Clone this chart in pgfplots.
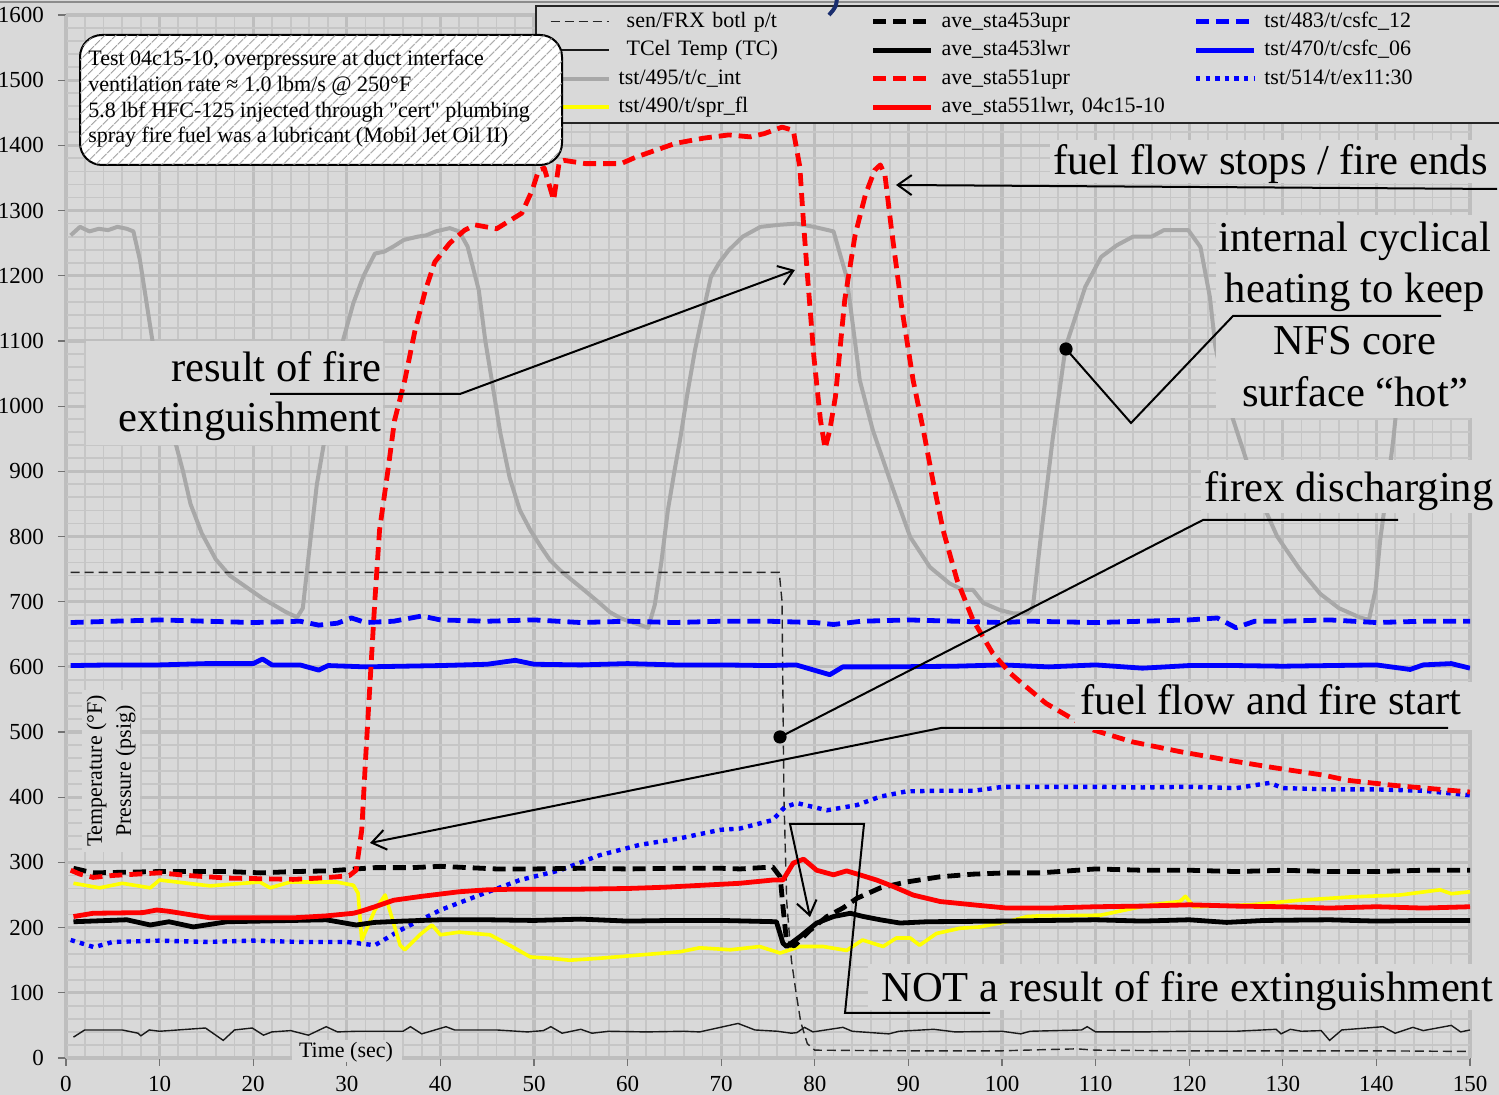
\documentclass[border=0pt]{standalone}
\usepackage{fontspec}
\setmainfont{Liberation Serif}[Ligatures=TeXOff]
\usepackage{pgfplots}
\pgfplotsset{compat=1.18}
\usetikzlibrary{patterns.meta,arrows.meta}
\definecolor{bg}{RGB}{217,217,217}
\definecolor{gmaj}{RGB}{190,190,190}
\definecolor{gmin}{RGB}{198,198,198}
\definecolor{cgrey}{RGB}{168,168,168}
\definecolor{cyel}{RGB}{255,255,0}
\definecolor{navyish}{RGB}{25,45,110}
\tikzset{
 frx/.style={black!85, line width=0.7pt, dash pattern=on 4.5pt off 2.5pt},
 tcel/.style={black!90, line width=0.7pt},
 gry/.style={cgrey, line width=2pt, line join=round},
 yel/.style={cyel, line width=1.8pt, line join=round},
 kdash/.style={black, line width=2.4pt, dash pattern=on 6.5pt off 3.5pt, line join=round},
 ksol/.style={black, line width=2.4pt, line join=round},
 rdash/.style={red, line width=2.4pt, dash pattern=on 6.5pt off 3.5pt, line join=round},
 rsol/.style={red, line width=2.4pt, line join=round},
 bdash/.style={blue, line width=2.4pt, dash pattern=on 6.5pt off 3.5pt, line join=round},
 bsol/.style={blue, line width=2.4pt, line join=round},
 bdot/.style={blue, line width=2.2pt, dash pattern=on 2.2pt off 2.6pt},
 ann/.style={black, line width=1pt},
 annarr/.style={black, line width=1pt, -{Straight Barb[length=7pt,width=10pt,line width=1pt]}},
}
\newcommand\bigf{\fontsize{21.3}{25}\selectfont}
\begin{document}
\begin{tikzpicture}
\fill[bg] (-33pt,-18.5pt) rectangle (716.5pt,529pt);
\begin{axis}[
 at={(0,0)}, anchor=south west, scale only axis, width=702pt, height=521.5pt,
 xmin=0, xmax=150, ymin=0, ymax=1600,
 xtick distance=10, ytick distance=100, minor x tick num=4, minor y tick num=4,
 grid=both,
 major grid style={draw=gmaj, line width=1.6pt},
 minor grid style={draw=gmin, line width=0.9pt},
 axis lines*=left,
 axis line style={draw=gmaj, line width=1pt},
 tick align=outside, major tick length=4pt, minor tick length=0pt,
 tick style={draw=black!55, line width=0.6pt},
 tick label style={font=\fontsize{11.5}{13}\selectfont},
 yticklabel style={xshift=-3.5pt},
 xticklabel style={yshift=-1.5pt},
 /pgf/number format/assume math mode=true,
 /pgf/number format/1000 sep={},
 axis background/.style={fill=bg},
 legend columns=3,
 legend cell align=left,
 legend image code/.code={\draw[#1] (0pt,0pt) -- (29pt,0pt);},
 legend style={at={(0.334,1.0096)}, anchor=north west, draw=black!85, line width=0.8pt,
   fill=bg, inner xsep=6.5pt, inner ysep=1.2pt, row sep=0.75pt,
   font=\fontsize{11}{13}\selectfont,
   nodes={text width=118pt, align=left, inner sep=1.5pt, text height=8pt, text depth=2.5pt, anchor=west},
   /tikz/every odd column/.append style={column sep=2.5pt},
   /tikz/every even column/.append style={column sep=6.5pt}},
]
% grey c_int
\addplot[gry, forget plot] coordinates {
(0.5,1262) (1.5,1275) (2.5,1268) (3.5,1272) (4.5,1270) (5.5,1275) (6.5,1272) (7.2,1268) (7.9,1224) (9,1122) (10,1030) (11,975) (11.8,938) (12.5,900) (13.3,850) (14.5,805) (16,765) (17.5,740) (19,725) (20,715) (21,705) (22.2,695) (23.5,684) (24.7,676) (25.3,690) (26,780) (26.8,880) (27.5,938) (28.3,1040) (29.6,1101) (30.7,1158) (31.8,1200) (33,1234) (34,1237) (35,1245) (36.1,1255) (37.6,1260) (38.5,1262) (39.5,1268) (41,1273) (42,1268) (42.9,1245) (44.1,1178) (44.8,1100) (45.6,1030) (46.4,959) (47.4,890) (48.5,840) (49.6,810) (50.7,785) (51.7,764) (52.8,748) (53.8,736) (55,722) (56,710) (57,698) (58.1,684) (59.2,675) (60.3,669) (61.2,665) (62.2,660) (62.9,695) (63.6,760) (64.3,840) (65,900) (65.6,948) (66.4,1020) (67.2,1086) (68,1140) (68.9,1198) (69.8,1220) (70.8,1239) (72.3,1260) (74.2,1275) (76.1,1278) (78,1280) (79.9,1275) (82,1268) (83.4,1198) (84.5,1076) (84.8,1040) (86.2,963) (88.4,871) (90.2,799) (92.3,753) (94.4,728) (95.8,718) (96.9,718) (98,698) (99.8,687) (101.2,682) (102.7,682) (103.3,692) (104.1,794) (105.4,948) (106.8,1091) (108.9,1183) (110.6,1229) (112.3,1247) (114,1260) (116,1260) (117.3,1270) (119.9,1270) (121.2,1244) (122.2,1168) (122.8,1091) (124,1010) (125.4,948) (126.5,900) (128,845) (129.4,800) (130.4,779) (131.8,750) (134,712) (136,690) (138.2,676) (139.2,672) (139.9,718) (140.4,794) (141.2,880) (141.8,948) (142.6,1060) (143.5,1180) (144.5,1240) (146,1260) (148,1265) (150,1268)};
% sen/FRX
\addplot[frx, forget plot] coordinates {
(0.5,745) (76.2,745) (76.5,700) (76.7,400) (77,240) (77.5,150) (78,100) (78.5,55) (79.2,22) (80,12) (90,11) (100,11) (105,13) (108,14) (110,12) (120,11) (130,11) (140,11) (150,10)};
% TCel
\addplot[tcel, forget plot] coordinates {
(0.8,32) (2,43) (6,43) (7.7,38) (8,34) (8.9,43) (10,41) (14.9,46) (16.8,27) (18,43) (19.9,46) (21.1,35) (22,40) (24,42) (25.9,35) (27.8,48) (29,40) (31,41) (36,41) (36.8,48) (38,37) (40.6,48) (41.5,43) (46,43) (49.3,40) (51,42) (51.8,48) (53,38) (55,44) (56.2,38) (58,41) (62,40) (66,41) (67.7,40) (71.8,53) (73.6,43) (76,41) (77.5,38) (78.1,39) (78.9,47) (79.8,40) (83,47) (84,41) (87.9,37) (89,41) (92.7,44) (95,40) (100,41) (102,37) (103,41) (108.5,43) (109.1,48) (110,40) (115,40) (120,41) (125,41) (129.3,44) (129.8,37) (130.8,44) (132,41) (134.1,42) (135,27) (136.3,43) (140.7,48) (142,38) (143.9,47) (145,42) (148,50) (149,40) (150,43)};
% blue dotted ex11:30
\addplot[bdot, forget plot] coordinates {
(0.5,181) (3,170) (5,178) (10,180) (15,178) (20,180) (25,178) (30,178) (33,173) (35.7,196) (40,227) (44.2,250) (48.5,273) (52.8,288) (57,311) (61.3,327) (65.6,337) (69.9,350) (72,352) (75.5,365) (76.8,385) (78.1,391) (81.3,380) (84.5,388) (87,401) (89.8,409) (93.4,410) (97,410) (100.1,416) (106,416) (110,416) (115,415) (120,416) (125,414) (128.6,422) (130,414) (135,412) (140,412) (145,410) (150,403)};
% yellow spr_fl
\addplot[yel, forget plot] coordinates {
(0.8,268) (3.6,261) (6,268) (9,261) (10,273) (15.4,264) (20.7,270) (21.8,261) (24,270) (28.9,270) (30.7,265) (31.2,253) (31.6,181) (33,227) (34.1,250) (35.7,173) (36.2,166) (37.8,189) (39.1,204) (40,189) (42,193) (45.3,189) (47.4,173) (49.6,155) (51.7,153) (53.8,150) (57,153) (61.3,158) (65.6,163) (67.7,169) (71,166) (74.1,171) (76.3,161) (78.4,171) (80.9,171) (83.4,165) (85.1,181) (87.3,171) (88.7,184) (90.2,184) (91.2,173) (93,191) (95.5,199) (97.6,201) (100.5,209) (102.7,217) (104,218) (110.5,219) (115.8,235) (119,240) (119.6,248) (120.5,232) (126.5,235) (131.8,242) (137.2,247) (142.5,250) (146.8,258) (148,252) (150,255)};
% blue solid csfc_06
\addplot[bsol, forget plot] coordinates {
(0.5,602) (5,603) (10,603) (15,605) (20,605) (21,612) (22,603) (25,603) (27,595) (28,602) (32,600) (40,602) (45,604) (48,610) (50,604) (55,603) (60,605) (65,603) (70,603) (75,602) (78,603) (81.6,588) (83,600) (88,600) (95,601) (100,603) (105,600) (110,603) (115,598) (120,602) (125,602) (130,601) (135,602) (140,603) (143.6,596) (145,603) (148,605) (150,598)};
% blue dashed csfc_12
\addplot[bdash, forget plot] coordinates {
(0.5,668) (5,670) (10,672) (15,670) (20,668) (25,670) (27,664) (29,667) (30.5,675) (32,668) (35,670) (38,678) (40,672) (45,670) (50,672) (55,668) (60,670) (65,668) (70,670) (75,670) (80,668) (82,665) (85,670) (90,672) (95,670) (100,668) (103,670) (110,668) (115,670) (120,672) (123,675) (125,660) (127,670) (130,670) (135,672) (140,668) (145,670) (150,670)};
% black solid 453lwr
\addplot[ksol, forget plot] coordinates {
(0.8,209) (6.5,212) (9,204) (11,209) (13.6,201) (17.2,209) (24.3,211) (27.8,212) (31,204) (33,208) (36,210) (40,212) (45,212) (50,211) (55,213) (60,210) (65,211) (70,211) (75.9,209) (76.6,176) (77,171) (78.4,186) (80.2,207) (82,217) (83.8,222) (85.2,217) (87,212) (89.1,207) (92,209) (100,210) (105,211) (110,212) (115,210) (120,212) (124,208) (128,211) (135,212) (140,210) (145,211) (150,211)};
% black dashed 453upr
\addplot[kdash, forget plot] coordinates {
(0.8,291) (2.9,284) (10,286) (17.2,286) (20.8,284) (24.3,286) (28,287) (31,290) (33,292) (37,292) (40,294) (43,292) (46,290) (50,290) (55,291) (60,290) (65,291) (70,291) (72,290) (75.5,293) (76.3,278) (76.6,232) (77,176) (77.8,172) (79.5,196) (81.3,217) (83,230) (84.5,245) (87,261) (89.8,270) (93.4,278) (96.9,282) (100.5,284) (104.1,284) (110,290) (115,288) (120,288) (125,286) (130,288) (135,286) (140,286) (145,288) (150,288)};
% red solid 551lwr
\addplot[rsol, forget plot] coordinates {
(0.8,217) (2.9,222) (8.2,223) (9.7,227) (11,225) (13.6,219) (15.4,215) (20,215) (24.3,215) (27.8,218) (30.7,222) (31.5,225) (33,232) (35,242) (38,248) (42,255) (45,258) (48,259) (55,259) (60,260) (64,262) (68,265) (72,268) (75.5,273) (76.6,273) (77.7,299) (78.8,305) (80.2,288) (82,281) (83.4,287) (84.8,281) (86.6,273) (88.4,263) (90.5,250) (93.4,240) (96.9,235) (100.5,230) (105,230) (110,232) (115,233) (120,235) (125,233) (130,232) (135,230) (140,232) (145,230) (150,232)};
% red dashed 551upr
\addplot[rdash, forget plot] coordinates {
(0.5,288) (1.5,282) (2.9,277) (5,280) (10,284) (13,280) (17.2,276) (20.8,275) (24.3,274) (27,276) (29,278) (30.3,280) (31,288) (31.6,350) (32,457) (32.5,580) (33,702) (33.5,810) (34.4,902) (35.1,978) (36.2,1040) (37.3,1117) (38.4,1178) (39.4,1221) (41,1250) (42.6,1270) (43.7,1278) (46,1272) (48.7,1296) (49.8,1331) (50.5,1362) (51.1,1365) (52.1,1316) (52.7,1375) (53.2,1377) (55.5,1372) (59.3,1372) (60.9,1382) (63.1,1393) (65.1,1403) (68.1,1411) (70.8,1416) (73.1,1413) (74.6,1418) (76.5,1428) (77.7,1423) (78.4,1367) (78.8,1280) (79.2,1203) (79.9,1076) (80.6,979) (81.1,935) (81.6,963) (82.2,1014) (83.2,1163) (84.3,1262) (85.4,1324) (86.4,1362) (87,1370) (87.5,1354) (88.2,1270) (89.3,1150) (90.5,1040) (91.6,963) (92.6,887) (93.7,810) (95.2,733) (96.9,672) (99,621) (100.9,590) (101.7,580) (104.7,544) (107.8,518) (109.8,503) (113.9,485) (119,470) (124.1,457) (129.2,445) (134.3,434) (136.9,426) (142,418) (146,413) (150,408)};
% legend (row-wise)
\addlegendimage{frx}\addlegendentry{\hspace{4pt}sen/FRX botl p/t}
\addlegendimage{kdash}\addlegendentry{ave\_sta453upr}
\addlegendimage{bdash}\addlegendentry{tst/483/t/csfc\_12}
\addlegendimage{tcel}\addlegendentry{\hspace{4pt}TCel Temp (TC)}
\addlegendimage{ksol}\addlegendentry{ave\_sta453lwr}
\addlegendimage{bsol}\addlegendentry{tst/470/t/csfc\_06}
\addlegendimage{gry}\addlegendentry{tst/495/t/c\_int}
\addlegendimage{rdash}\addlegendentry{ave\_sta551upr}
\addlegendimage{bdot}\addlegendentry{tst/514/t/ex11:30}
\addlegendimage{yel}\addlegendentry{tst/490/t/spr\_fl}
\addlegendimage{rsol}\addlegendentry{ave\_sta551lwr, 04c15-10}
\end{axis}
\begin{scope}[x=0.5pt,y=-0.5pt,shift={(-33pt,529pt)}]
% frame line and stray stroke at top
\draw[black!45, line width=0.8pt] (0,2) -- (1499,2);
\draw[navyish, line width=2pt] (837,-2) .. controls (836,7) .. (829,15);
% info box
\draw[black, line width=1pt, rounded corners=11pt, fill=white,
  postaction={pattern={Lines[angle=45,distance=4pt,line width=0.5pt]}, pattern color=black!40}]
  (80,35) rectangle (562,165);
\node[anchor=west, align=left, inner sep=0, font=\fontsize{11}{12.85}\selectfont] at (88,99)
 {Test 04c15-10, overpressure at duct interface\\
  ventilation rate ≈ 1.0 lbm/s @ 250°F\\
  5.8 lbf HFC-125 injected through "cert" plumbing\\
  spray fire fuel was a lubricant (Mobil Jet Oil II)};
% annotation backgrounds
\fill[bg] (1050,140) rectangle (1499,183);
\fill[bg] (1216,215) rectangle (1499,418);
\fill[bg] (86,341) rectangle (383,445);
\fill[bg] (1201,460) rectangle (1499,513);
\fill[bg] (1075,682) rectangle (1499,730);
\fill[bg] (868,964) rectangle (1499,1010);
\fill[bg] (292,1040) rectangle (402,1062);
\fill[bg] (82,690) rectangle (140,852);
% callout lines
\draw[annarr] (1497,189) -- (896,185);
\draw[ann] (1066,349) -- (1131,423) -- (1233,316) -- (1441,316);
\draw[annarr] (270,394) -- (460,394) -- (795,270);
\draw[ann] (1398,520) -- (1203,520) -- (780,737);
\draw[annarr] (1448,728) -- (941,728) -- (370,843);
\draw[annarr] (990,1013) -- (845,1013) -- (864,824) -- (790,824) -- (810,917);
\fill[black] (1066,349) circle (3.3pt);
\fill[black] (780,737) circle (3.3pt);
% annotation texts
\node[anchor=base east, inner sep=0, font=\bigf] at (1488,175) {fuel flow stops / fire ends};
\node[anchor=base, inner sep=0, font=\bigf] at (1355,252) {internal cyclical};
\node[anchor=base, inner sep=0, font=\bigf] at (1355,303) {heating to keep};
\node[anchor=base, inner sep=0, font=\bigf] at (1355,355) {NFS core};
\node[anchor=base, inner sep=0, font=\bigf] at (1355,407) {surface “hot”};
\node[anchor=base east, inner sep=0, font=\bigf] at (382,382) {result of fire};
\node[anchor=base east, inner sep=0, font=\bigf] at (382,432) {extinguishment};
\node[anchor=base west, inner sep=0, font=\bigf] at (1204,502) {firex discharging};
\node[anchor=base east, inner sep=0, font=\bigf] at (1462,715) {fuel flow and fire start};
\node[anchor=base west, inner sep=0, font=\bigf] at (881,1002) {NOT a result of fire extinguishment};
% axis titles
\node[inner sep=0, font=\fontsize{11}{13}\selectfont] at (346,1052) {Time (sec)};
\node[rotate=90, align=center, inner sep=0, font=\fontsize{11}{14.5}\selectfont] at (111,771) {Temperature (°F)\\Pressure (psig)};
\end{scope}
\pgfresetboundingbox
\path[use as bounding box] (-33pt,-18.5pt) rectangle (716.5pt,529pt);
\end{tikzpicture}
\end{document}
